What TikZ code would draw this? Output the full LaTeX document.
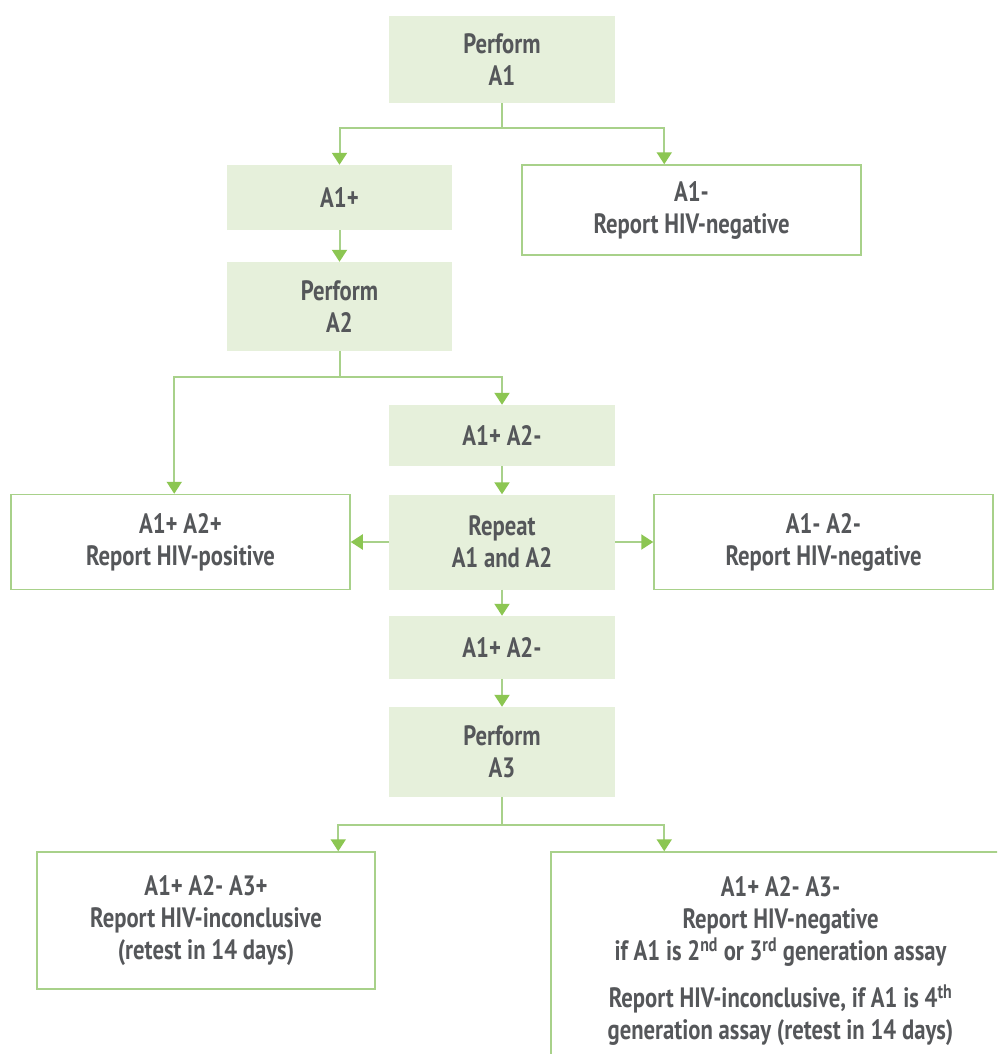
\documentclass[tikz,border=0pt]{standalone}
\usepackage{fontspec}
\setmainfont{PT Sans}[FakeStretch=0.81]
\usetikzlibrary{arrows.meta}
\definecolor{txt}{HTML}{55575A}
\definecolor{boxfill}{HTML}{E6F0DB}
\definecolor{edge}{HTML}{A8D18A}
\definecolor{tipc}{HTML}{8CC652}
\begin{document}
\begin{tikzpicture}[x=1pt,y=-1pt,
  every node/.style={font=\fontsize{28}{32}\selectfont\bfseries, text=txt, align=center, inner sep=0pt},
  greenbox/.style={rectangle, fill=boxfill},
  whitebox/.style={rectangle, draw=edge, line width=1.5pt, fill=white},
  conn/.style={draw=edge, line width=2pt, -{Triangle[width=15pt,length=12pt,color=tipc]}}]
\useasboundingbox (0,0) rectangle (997,1054);
\clip (0,0) rectangle (997,1054);
\fill[white] (0,0) rectangle (997,1054);

\node[greenbox, minimum width=226pt, minimum height=87pt] (pA1) at (502,59.5) {Perform\\A1};
\node[greenbox, minimum width=225pt, minimum height=65pt] (a1p) at (339.5,197.5) {A1+};
\node[whitebox, minimum width=339pt, minimum height=90pt] (a1n) at (691.5,210) {A1-\\Report HIV-negative};
\node[greenbox, minimum width=225pt, minimum height=89pt] (pA2) at (339.5,306.5) {Perform\\A2};
\node[greenbox, minimum width=226pt, minimum height=61pt] (am1) at (502,435.5) {A1+ A2-};
\node[whitebox, minimum width=339pt, minimum height=95pt] (a12p) at (180.5,542) {A1+ A2+\\Report HIV-positive};
\node[greenbox, minimum width=226pt, minimum height=95pt] (rep) at (502,542) {Repeat\\A1 and A2};
\node[whitebox, minimum width=339pt, minimum height=95pt] (a12n) at (823.5,542) {A1- A2-\\Report HIV-negative};
\node[greenbox, minimum width=226pt, minimum height=63pt] (am2) at (502,647.5) {A1+ A2-};
\node[greenbox, minimum width=226pt, minimum height=90pt] (pA3) at (502,752) {Perform\\A3};
\node[whitebox, minimum width=338pt, minimum height=137pt] (a3p) at (206,920.5) {A1+ A2- A3+\\Report HIV-inconclusive\\(retest in 14 days)};
\node[whitebox, minimum width=459pt, minimum height=218pt] (a3n) at (780.5,961) {A1+ A2- A3-\\Report HIV-negative\\if A1 is 2\textsuperscript{nd} or 3\textsuperscript{rd} generation assay\\[15pt]Report HIV-inconclusive, if A1 is 4\textsuperscript{th}\\generation assay (retest in 14 days)};

\draw[conn] (pA1.south) -- ++(0,25) -| (a1p.north);
\draw[conn] (pA1.south) -- ++(0,25) -| ([xshift=143pt]a1n.north west);
\draw[conn] (a1p) -- (pA2);
\draw[conn] (pA2.south) -- ++(0,26) -| (am1.north);
\draw[conn] (pA2.south) -- ++(0,26) -| ([xshift=164pt]a12p.north west);
\draw[conn] (am1) -- (rep);
\draw[conn] (rep.west) -- (a12p.east);
\draw[conn] (rep.east) -- (a12n.west);
\draw[conn] (rep) -- (am2);
\draw[conn] (am2) -- (pA3);
\draw[conn] (pA3.south) -- ++(0,28) -| ([xshift=302pt]a3p.north west);
\draw[conn] (pA3.south) -- ++(0,28) -| ([xshift=114pt]a3n.north west);
\end{tikzpicture}
\end{document}
